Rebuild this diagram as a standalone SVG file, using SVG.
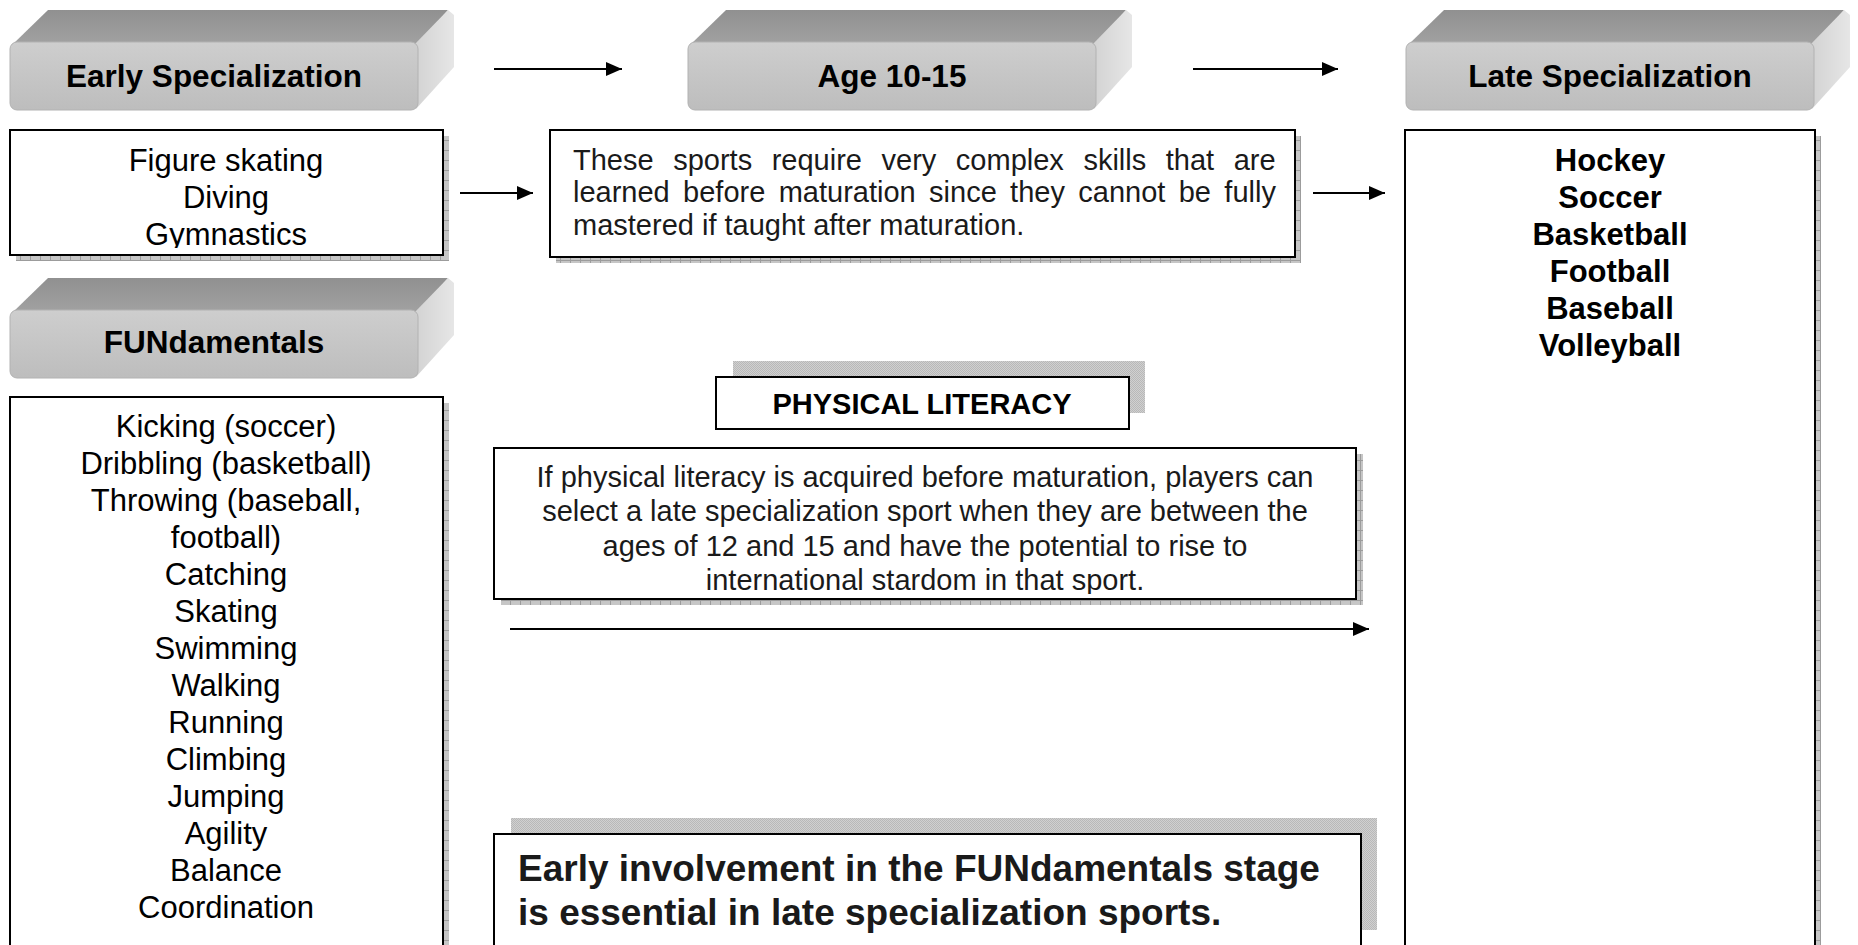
<svg xmlns="http://www.w3.org/2000/svg" width="1858" height="945" viewBox="0 0 1858 945">
<style>
.top{fill:url(#gTop)}
.side{fill:url(#gSide)}
.front{fill:url(#gFront);stroke:#b2b2b2;stroke-width:1}
.box{fill:#fff;stroke:#000;stroke-width:2}
.sh{fill:url(#hatch)}
.sh2{fill:url(#dots)}
.hd{font-family:"Liberation Sans",Arial,sans-serif;font-weight:bold;font-size:31.5px;text-anchor:middle;fill:#000}
.lst{font-family:"Liberation Sans",Arial,sans-serif;font-size:31px;text-anchor:middle;fill:#000}
.lstb{font-family:"Liberation Sans",Arial,sans-serif;font-weight:bold;font-size:31px;text-anchor:middle;fill:#000}
.body{font-family:"Liberation Sans",Arial,sans-serif;font-size:29px;fill:#1a1a1a}
.pl{font-family:"Liberation Sans",Arial,sans-serif;font-weight:bold;font-size:29px;text-anchor:middle;fill:#000}
.big{font-family:"Liberation Sans",Arial,sans-serif;font-weight:bold;font-size:37px;fill:#1a1a1a}
.arr{stroke:#000;stroke-width:2;fill:none;marker-end:url(#ah)}
</style>
<defs>
<linearGradient id="gFront" x1="0" y1="0" x2="0" y2="1"><stop offset="0" stop-color="#cecece"/><stop offset="1" stop-color="#bdbdbd"/></linearGradient>
<linearGradient id="gTop" x1="0" y1="0" x2="0" y2="1"><stop offset="0" stop-color="#909090"/><stop offset="1" stop-color="#a2a2a2"/></linearGradient>
<linearGradient id="gSide" x1="0" y1="0" x2="1" y2="0"><stop offset="0" stop-color="#d2d2d2"/><stop offset="1" stop-color="#e6e6e6"/></linearGradient>
<pattern id="hatch" width="10" height="10" patternUnits="userSpaceOnUse"><rect width="10" height="10" fill="#c6c6c6"/><path d="M0 0.5H10M0.5 0V10" stroke="#9c9c9c" stroke-width="1"/></pattern>
<pattern id="dots" width="2" height="2" patternUnits="userSpaceOnUse"><rect width="2" height="2" fill="#d0d0d0"/><rect width="1" height="1" fill="#b8b8b8"/><rect x="1" y="1" width="1" height="1" fill="#b8b8b8"/></pattern>
<g id="hdr">
<polygon class="top" points="2,3 38,-32 438,-32 408,3"/>
<polygon class="side" points="404,3 438,-32 444,-27 444,25 406,67"/>
<rect class="front" x="0" y="0" width="408" height="68" rx="7"/>
</g>
<marker id="ah" markerWidth="16" markerHeight="14" refX="16" refY="7" orient="auto" markerUnits="userSpaceOnUse"><path d="M0,0 L16,7 L0,14 z" fill="#000"/></marker>
<clipPath id="clipFig"><rect x="10" y="130" width="433" height="118"/></clipPath>
<clipPath id="clipIf"><rect x="494" y="448" width="862" height="146"/></clipPath>
</defs>

<g id="early-header">
<use href="#hdr" x="10" y="42"/>
<text class="hd" x="214" y="87">Early Specialization</text>
</g>
<g id="age-header">
<use href="#hdr" x="688" y="42"/>
<text class="hd" x="892" y="87">Age 10-15</text>
</g>
<g id="late-header">
<use href="#hdr" x="1406" y="42"/>
<text class="hd" x="1610" y="87">Late Specialization</text>
</g>
<g id="fundamentals-header">
<use href="#hdr" x="10" y="310"/>
<text class="hd" x="214" y="353">FUNdamentals</text>
</g>

<g id="early-sports">
<rect class="sh" x="16" y="136" width="433" height="125"/>
<rect class="box" x="10" y="130" width="433" height="125"/>
<g clip-path="url(#clipFig)">
<text class="lst" x="226" y="171">Figure skating</text>
<text class="lst" x="226" y="208">Diving</text>
<text class="lst" x="226" y="245">Gymnastics</text>
</g>
</g>

<g id="complex-skills">
<rect class="sh" x="556" y="136" width="745" height="127"/>
<rect class="box" x="550" y="130" width="745" height="127"/>
<text class="body" x="573" y="170" word-spacing="11.5">These sports require very complex skills that are</text>
<text class="body" x="573" y="202" word-spacing="5.3">learned before maturation since they cannot be fully</text>
<text class="body" x="573" y="235">mastered if taught after maturation.</text>
</g>

<g id="late-sports">
<rect class="sh" x="1411" y="136" width="410" height="830"/>
<rect class="box" x="1405" y="130" width="410" height="830"/>
<text class="lstb" x="1610" y="171">Hockey</text>
<text class="lstb" x="1610" y="208">Soccer</text>
<text class="lstb" x="1610" y="245">Basketball</text>
<text class="lstb" x="1610" y="282">Football</text>
<text class="lstb" x="1610" y="319">Baseball</text>
<text class="lstb" x="1610" y="356">Volleyball</text>
</g>

<g id="fundamentals-list">
<rect class="sh" x="16" y="403" width="433" height="570"/>
<rect class="box" x="10" y="397" width="433" height="570"/>
<text class="lst" x="226" y="437">Kicking (soccer)</text>
<text class="lst" x="226" y="474">Dribbling (basketball)</text>
<text class="lst" x="226" y="511">Throwing (baseball,</text>
<text class="lst" x="226" y="548">football)</text>
<text class="lst" x="226" y="585">Catching</text>
<text class="lst" x="226" y="622">Skating</text>
<text class="lst" x="226" y="659">Swimming</text>
<text class="lst" x="226" y="696">Walking</text>
<text class="lst" x="226" y="733">Running</text>
<text class="lst" x="226" y="770">Climbing</text>
<text class="lst" x="226" y="807">Jumping</text>
<text class="lst" x="226" y="844">Agility</text>
<text class="lst" x="226" y="881">Balance</text>
<text class="lst" x="226" y="918">Coordination</text>
</g>

<g id="physical-literacy">
<rect class="sh2" x="733" y="361" width="412" height="52"/>
<rect class="box" x="716" y="377" width="413" height="52"/>
<text class="pl" x="922" y="414">PHYSICAL LITERACY</text>
</g>

<g id="literacy-text">
<rect class="sh" x="501" y="454" width="862" height="151"/>
<rect class="box" x="494" y="448" width="862" height="151"/>
<g clip-path="url(#clipIf)" text-anchor="middle">
<text class="body" x="925" y="487">If physical literacy is acquired before maturation, players can</text>
<text class="body" x="925" y="521">select a late specialization sport when they are between the</text>
<text class="body" x="925" y="556">ages of 12 and 15 and have the potential to rise to</text>
<text class="body" x="925" y="590">international stardom in that sport.</text>
</g>
</g>

<g id="early-involvement">
<rect class="sh2" x="511" y="818" width="866" height="112"/>
<rect class="box" x="494" y="834" width="867" height="120"/>
<text class="big" x="518" y="881">Early involvement in the FUNdamentals stage</text>
<text class="big" x="518" y="925">is essential in late specialization sports.</text>
</g>

<g id="connectors">
<line class="arr" x1="494" y1="69" x2="622" y2="69"/>
<line class="arr" x1="1193" y1="69" x2="1338" y2="69"/>
<line class="arr" x1="460" y1="193" x2="533" y2="193"/>
<line class="arr" x1="1313" y1="193" x2="1385" y2="193"/>
<line class="arr" x1="510" y1="629" x2="1369" y2="629"/>
</g>
</svg>
